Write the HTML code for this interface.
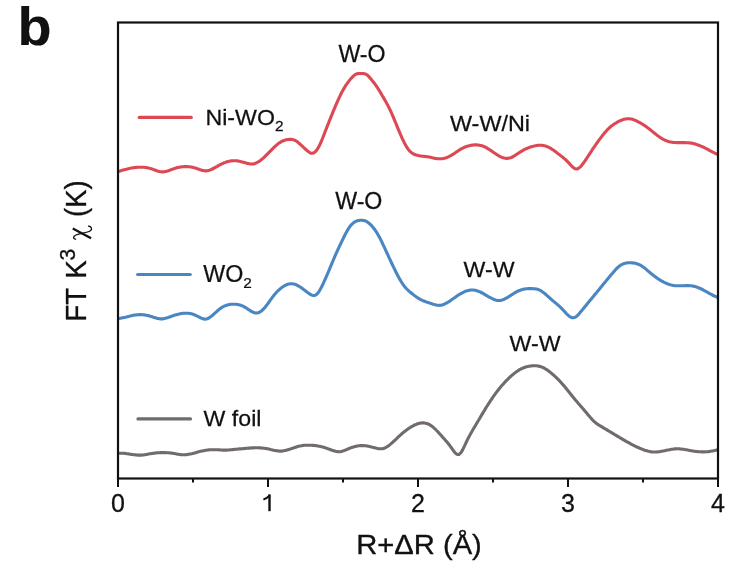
<!DOCTYPE html>
<html><head><meta charset="utf-8"><style>
html,body{margin:0;padding:0;background:#fff;}
body{width:755px;height:580px;overflow:hidden;}
svg{display:block;will-change:transform;}
text{font-family:"Liberation Sans",sans-serif;fill:#111;}
</style></head><body>
<svg width="755" height="580" viewBox="0 0 755 580">
<rect width="755" height="580" fill="#fff"/>
<text transform="translate(17.5,44.5) scale(1.05,1)" font-size="53" font-weight="bold" fill="#000" stroke="#000" stroke-width="0.2">b</text>
<g fill="none" stroke-linejoin="round" stroke-linecap="round" stroke-width="3.1">
<path d="M119.3,171.2 L120.3,170.9 L121.3,170.6 L122.3,170.3 L123.3,170.0 L124.3,169.7 L125.3,169.4 L126.3,169.2 L127.3,168.9 L128.3,168.7 L129.3,168.5 L130.3,168.3 L131.3,168.1 L132.3,167.9 L133.3,167.8 L134.3,167.6 L135.3,167.5 L136.3,167.4 L137.3,167.3 L138.3,167.3 L139.3,167.2 L140.3,167.2 L141.3,167.2 L142.3,167.2 L143.3,167.3 L144.3,167.3 L145.3,167.5 L146.3,167.6 L147.3,167.8 L148.3,168.0 L149.3,168.2 L150.3,168.5 L151.3,168.8 L152.3,169.1 L153.3,169.5 L154.3,169.8 L155.3,170.2 L156.3,170.6 L157.3,170.9 L158.3,171.2 L159.3,171.5 L160.3,171.7 L161.3,171.8 L162.3,171.9 L163.3,171.9 L164.3,171.8 L165.3,171.6 L166.3,171.4 L167.3,171.1 L168.3,170.8 L169.3,170.4 L170.3,170.0 L171.3,169.6 L172.3,169.2 L173.3,168.9 L174.3,168.5 L175.3,168.2 L176.3,167.9 L177.3,167.6 L178.3,167.4 L179.3,167.2 L180.3,167.0 L181.3,166.9 L182.3,166.7 L183.3,166.7 L184.3,166.6 L185.3,166.6 L186.3,166.6 L187.3,166.6 L188.3,166.7 L189.3,166.8 L190.3,166.9 L191.3,167.1 L192.3,167.3 L193.3,167.5 L194.3,167.8 L195.3,168.0 L196.3,168.3 L197.3,168.7 L198.3,169.0 L199.3,169.4 L200.3,169.7 L201.3,170.1 L202.3,170.4 L203.3,170.6 L204.3,170.8 L205.3,170.9 L206.3,170.9 L207.3,170.8 L208.3,170.6 L209.3,170.3 L210.3,169.9 L211.3,169.5 L212.3,169.0 L213.3,168.5 L214.3,168.0 L215.3,167.4 L216.3,166.8 L217.3,166.3 L218.3,165.7 L219.3,165.1 L220.3,164.6 L221.3,164.1 L222.3,163.6 L223.3,163.2 L224.3,162.7 L225.3,162.4 L226.3,162.0 L227.3,161.7 L228.3,161.4 L229.3,161.2 L230.3,161.0 L231.3,160.9 L232.3,160.8 L233.3,160.7 L234.3,160.7 L235.3,160.7 L236.3,160.8 L237.3,160.9 L238.3,161.0 L239.3,161.2 L240.3,161.4 L241.3,161.7 L242.3,161.9 L243.3,162.2 L244.3,162.5 L245.3,162.8 L246.3,163.1 L247.3,163.4 L248.3,163.6 L249.3,163.8 L250.3,164.0 L251.3,164.0 L252.3,164.0 L253.3,163.9 L254.3,163.7 L255.3,163.3 L256.3,162.9 L257.3,162.4 L258.3,161.9 L259.3,161.2 L260.3,160.5 L261.3,159.7 L262.3,158.9 L263.3,158.1 L264.3,157.1 L265.3,156.2 L266.3,155.2 L267.3,154.2 L268.3,153.2 L269.3,152.2 L270.3,151.2 L271.3,150.1 L272.3,149.1 L273.3,148.1 L274.3,147.1 L275.3,146.2 L276.3,145.3 L277.3,144.4 L278.3,143.6 L279.3,142.9 L280.3,142.3 L281.3,141.7 L282.3,141.2 L283.3,140.8 L284.3,140.4 L285.3,140.1 L286.3,139.8 L287.3,139.6 L288.3,139.5 L289.3,139.4 L290.3,139.3 L291.3,139.4 L292.3,139.5 L293.3,139.7 L294.3,140.1 L295.3,140.5 L296.3,141.1 L297.3,141.8 L298.3,142.6 L299.3,143.5 L300.3,144.4 L301.3,145.3 L302.3,146.2 L303.3,147.2 L304.3,148.1 L305.3,149.0 L306.3,149.9 L307.3,150.8 L308.3,151.6 L309.3,152.3 L310.3,152.9 L311.3,153.2 L312.3,153.3 L313.3,153.1 L314.3,152.5 L315.3,151.7 L316.3,150.6 L317.3,149.2 L318.3,147.6 L319.3,145.7 L320.3,143.7 L321.3,141.4 L322.3,139.0 L323.3,136.5 L324.3,133.9 L325.3,131.3 L326.3,128.7 L327.3,126.1 L328.3,123.6 L329.3,121.0 L330.3,118.6 L331.3,116.1 L332.3,113.6 L333.3,111.2 L334.3,108.8 L335.3,106.4 L336.3,104.1 L337.3,101.8 L338.3,99.6 L339.3,97.4 L340.3,95.3 L341.3,93.3 L342.3,91.4 L343.3,89.6 L344.3,87.9 L345.3,86.2 L346.3,84.7 L347.3,83.3 L348.3,81.9 L349.3,80.6 L350.3,79.3 L351.3,78.2 L352.3,77.1 L353.3,76.1 L354.3,75.3 L355.3,74.6 L356.3,74.1 L357.3,73.8 L358.3,73.6 L359.3,73.5 L360.3,73.5 L361.3,73.5 L362.3,73.5 L363.3,73.5 L364.3,73.7 L365.3,73.9 L366.3,74.4 L367.3,75.1 L368.3,76.0 L369.3,77.1 L370.3,78.2 L371.3,79.4 L372.3,80.7 L373.3,81.9 L374.3,83.2 L375.3,84.6 L376.3,86.0 L377.3,87.4 L378.3,89.0 L379.3,90.6 L380.3,92.2 L381.3,93.9 L382.3,95.7 L383.3,97.4 L384.3,99.1 L385.3,100.8 L386.3,102.6 L387.3,104.4 L388.3,106.3 L389.3,108.3 L390.3,110.4 L391.3,112.5 L392.3,114.8 L393.3,117.2 L394.3,119.6 L395.3,122.0 L396.3,124.4 L397.3,126.9 L398.3,129.3 L399.3,131.7 L400.3,134.0 L401.3,136.3 L402.3,138.6 L403.3,140.7 L404.3,142.7 L405.3,144.6 L406.3,146.4 L407.3,148.0 L408.3,149.4 L409.3,150.6 L410.3,151.6 L411.3,152.5 L412.3,153.2 L413.3,153.8 L414.3,154.3 L415.3,154.7 L416.3,155.0 L417.3,155.3 L418.3,155.6 L419.3,155.8 L420.3,155.9 L421.3,156.1 L422.3,156.2 L423.3,156.3 L424.3,156.4 L425.3,156.5 L426.3,156.6 L427.3,156.8 L428.3,156.9 L429.3,157.1 L430.3,157.3 L431.3,157.5 L432.3,157.8 L433.3,158.0 L434.3,158.2 L435.3,158.4 L436.3,158.5 L437.3,158.7 L438.3,158.8 L439.3,158.8 L440.3,158.8 L441.3,158.8 L442.3,158.7 L443.3,158.5 L444.3,158.3 L445.3,158.0 L446.3,157.7 L447.3,157.3 L448.3,156.9 L449.3,156.4 L450.3,155.9 L451.3,155.3 L452.3,154.7 L453.3,154.1 L454.3,153.4 L455.3,152.7 L456.3,152.0 L457.3,151.4 L458.3,150.7 L459.3,150.0 L460.3,149.4 L461.3,148.8 L462.3,148.3 L463.3,147.8 L464.3,147.3 L465.3,146.9 L466.3,146.6 L467.3,146.2 L468.3,145.9 L469.3,145.7 L470.3,145.5 L471.3,145.3 L472.3,145.1 L473.3,145.0 L474.3,144.9 L475.3,144.9 L476.3,144.9 L477.3,145.0 L478.3,145.0 L479.3,145.2 L480.3,145.4 L481.3,145.6 L482.3,145.9 L483.3,146.3 L484.3,146.7 L485.3,147.2 L486.3,147.7 L487.3,148.3 L488.3,148.9 L489.3,149.5 L490.3,150.2 L491.3,150.8 L492.3,151.5 L493.3,152.2 L494.3,152.9 L495.3,153.6 L496.3,154.2 L497.3,154.9 L498.3,155.5 L499.3,156.1 L500.3,156.6 L501.3,157.1 L502.3,157.5 L503.3,157.8 L504.3,158.1 L505.3,158.3 L506.3,158.4 L507.3,158.4 L508.3,158.3 L509.3,158.1 L510.3,157.9 L511.3,157.5 L512.3,157.0 L513.3,156.5 L514.3,155.9 L515.3,155.3 L516.3,154.6 L517.3,153.9 L518.3,153.3 L519.3,152.6 L520.3,152.0 L521.3,151.4 L522.3,150.8 L523.3,150.2 L524.3,149.7 L525.3,149.2 L526.3,148.7 L527.3,148.3 L528.3,147.8 L529.3,147.4 L530.3,147.1 L531.3,146.7 L532.3,146.4 L533.3,146.2 L534.3,145.9 L535.3,145.7 L536.3,145.6 L537.3,145.4 L538.3,145.3 L539.3,145.3 L540.3,145.3 L541.3,145.3 L542.3,145.4 L543.3,145.6 L544.3,145.8 L545.3,146.0 L546.3,146.3 L547.3,146.7 L548.3,147.1 L549.3,147.6 L550.3,148.1 L551.3,148.8 L552.3,149.4 L553.3,150.1 L554.3,150.8 L555.3,151.6 L556.3,152.3 L557.3,153.1 L558.3,153.9 L559.3,154.6 L560.3,155.4 L561.3,156.1 L562.3,156.9 L563.3,157.7 L564.3,158.6 L565.3,159.4 L566.3,160.4 L567.3,161.4 L568.3,162.4 L569.3,163.5 L570.3,164.6 L571.3,165.7 L572.3,166.8 L573.3,167.6 L574.3,168.3 L575.3,168.8 L576.3,169.0 L577.3,168.9 L578.3,168.4 L579.3,167.7 L580.3,166.8 L581.3,165.8 L582.3,164.5 L583.3,163.2 L584.3,161.9 L585.3,160.4 L586.3,159.0 L587.3,157.4 L588.3,155.9 L589.3,154.4 L590.3,152.8 L591.3,151.3 L592.3,149.7 L593.3,148.2 L594.3,146.8 L595.3,145.3 L596.3,143.9 L597.3,142.5 L598.3,141.1 L599.3,139.7 L600.3,138.4 L601.3,137.1 L602.3,135.8 L603.3,134.5 L604.3,133.3 L605.3,132.1 L606.3,131.0 L607.3,129.9 L608.3,128.9 L609.3,127.9 L610.3,127.0 L611.3,126.1 L612.3,125.4 L613.3,124.6 L614.3,124.0 L615.3,123.3 L616.3,122.8 L617.3,122.2 L618.3,121.7 L619.3,121.2 L620.3,120.7 L621.3,120.3 L622.3,119.9 L623.3,119.6 L624.3,119.3 L625.3,119.1 L626.3,118.9 L627.3,118.8 L628.3,118.8 L629.3,118.8 L630.3,118.9 L631.3,119.1 L632.3,119.3 L633.3,119.6 L634.3,120.0 L635.3,120.4 L636.3,120.8 L637.3,121.3 L638.3,121.8 L639.3,122.3 L640.3,122.9 L641.3,123.5 L642.3,124.1 L643.3,124.7 L644.3,125.4 L645.3,126.0 L646.3,126.8 L647.3,127.5 L648.3,128.2 L649.3,129.0 L650.3,129.8 L651.3,130.6 L652.3,131.4 L653.3,132.2 L654.3,133.0 L655.3,133.8 L656.3,134.6 L657.3,135.4 L658.3,136.1 L659.3,136.9 L660.3,137.5 L661.3,138.2 L662.3,138.8 L663.3,139.3 L664.3,139.8 L665.3,140.3 L666.3,140.7 L667.3,141.1 L668.3,141.4 L669.3,141.7 L670.3,141.9 L671.3,142.1 L672.3,142.2 L673.3,142.4 L674.3,142.5 L675.3,142.5 L676.3,142.6 L677.3,142.6 L678.3,142.6 L679.3,142.6 L680.3,142.6 L681.3,142.6 L682.3,142.6 L683.3,142.6 L684.3,142.6 L685.3,142.6 L686.3,142.7 L687.3,142.7 L688.3,142.8 L689.3,142.9 L690.3,143.0 L691.3,143.1 L692.3,143.3 L693.3,143.5 L694.3,143.8 L695.3,144.1 L696.3,144.4 L697.3,144.7 L698.3,145.1 L699.3,145.4 L700.3,145.9 L701.3,146.3 L702.3,146.7 L703.3,147.2 L704.3,147.7 L705.3,148.2 L706.3,148.7 L707.3,149.2 L708.3,149.7 L709.3,150.3 L710.3,150.8 L711.3,151.3 L712.3,151.9 L713.3,152.4 L714.3,152.9 L715.3,153.4 L716.3,153.9 L717.3,154.4 L717.5,154.5" stroke="#dc4853"/>
<path d="M119.3,318.5 L120.3,318.3 L121.3,318.1 L122.3,317.9 L123.3,317.6 L124.3,317.4 L125.3,317.2 L126.3,316.9 L127.3,316.7 L128.3,316.4 L129.3,316.2 L130.3,315.9 L131.3,315.7 L132.3,315.5 L133.3,315.3 L134.3,315.1 L135.3,315.0 L136.3,314.9 L137.3,314.7 L138.3,314.7 L139.3,314.6 L140.3,314.6 L141.3,314.6 L142.3,314.7 L143.3,314.7 L144.3,314.9 L145.3,315.0 L146.3,315.2 L147.3,315.4 L148.3,315.6 L149.3,315.9 L150.3,316.2 L151.3,316.5 L152.3,316.8 L153.3,317.2 L154.3,317.5 L155.3,317.8 L156.3,318.1 L157.3,318.4 L158.3,318.6 L159.3,318.8 L160.3,318.9 L161.3,318.9 L162.3,318.9 L163.3,318.7 L164.3,318.5 L165.3,318.3 L166.3,318.0 L167.3,317.7 L168.3,317.4 L169.3,317.0 L170.3,316.7 L171.3,316.3 L172.3,316.0 L173.3,315.6 L174.3,315.3 L175.3,315.0 L176.3,314.7 L177.3,314.4 L178.3,314.2 L179.3,314.0 L180.3,313.8 L181.3,313.6 L182.3,313.4 L183.3,313.3 L184.3,313.2 L185.3,313.2 L186.3,313.2 L187.3,313.2 L188.3,313.3 L189.3,313.4 L190.3,313.6 L191.3,313.8 L192.3,314.0 L193.3,314.4 L194.3,314.8 L195.3,315.2 L196.3,315.6 L197.3,316.1 L198.3,316.6 L199.3,317.1 L200.3,317.7 L201.3,318.1 L202.3,318.5 L203.3,318.9 L204.3,319.1 L205.3,319.1 L206.3,319.0 L207.3,318.7 L208.3,318.3 L209.3,317.7 L210.3,317.0 L211.3,316.3 L212.3,315.5 L213.3,314.6 L214.3,313.7 L215.3,312.8 L216.3,311.9 L217.3,311.0 L218.3,310.1 L219.3,309.3 L220.3,308.5 L221.3,307.8 L222.3,307.2 L223.3,306.7 L224.3,306.2 L225.3,305.7 L226.3,305.4 L227.3,305.0 L228.3,304.8 L229.3,304.6 L230.3,304.4 L231.3,304.3 L232.3,304.2 L233.3,304.2 L234.3,304.2 L235.3,304.2 L236.3,304.3 L237.3,304.5 L238.3,304.6 L239.3,304.9 L240.3,305.1 L241.3,305.5 L242.3,305.9 L243.3,306.3 L244.3,306.8 L245.3,307.4 L246.3,308.0 L247.3,308.7 L248.3,309.4 L249.3,310.0 L250.3,310.7 L251.3,311.3 L252.3,311.9 L253.3,312.3 L254.3,312.7 L255.3,312.9 L256.3,313.0 L257.3,312.9 L258.3,312.7 L259.3,312.3 L260.3,311.7 L261.3,311.0 L262.3,310.2 L263.3,309.2 L264.3,308.2 L265.3,307.0 L266.3,305.7 L267.3,304.4 L268.3,303.0 L269.3,301.6 L270.3,300.2 L271.3,298.8 L272.3,297.4 L273.3,296.1 L274.3,294.8 L275.3,293.7 L276.3,292.5 L277.3,291.5 L278.3,290.5 L279.3,289.6 L280.3,288.7 L281.3,287.9 L282.3,287.1 L283.3,286.5 L284.3,285.9 L285.3,285.3 L286.3,284.8 L287.3,284.4 L288.3,284.1 L289.3,283.9 L290.3,283.7 L291.3,283.7 L292.3,283.7 L293.3,283.9 L294.3,284.1 L295.3,284.4 L296.3,284.8 L297.3,285.3 L298.3,285.9 L299.3,286.5 L300.3,287.1 L301.3,287.8 L302.3,288.6 L303.3,289.3 L304.3,290.1 L305.3,290.8 L306.3,291.6 L307.3,292.3 L308.3,293.0 L309.3,293.7 L310.3,294.3 L311.3,294.9 L312.3,295.3 L313.3,295.5 L314.3,295.5 L315.3,295.2 L316.3,294.6 L317.3,293.7 L318.3,292.5 L319.3,291.0 L320.3,289.3 L321.3,287.5 L322.3,285.5 L323.3,283.4 L324.3,281.2 L325.3,279.0 L326.3,276.7 L327.3,274.4 L328.3,272.0 L329.3,269.6 L330.3,267.2 L331.3,264.8 L332.3,262.4 L333.3,260.0 L334.3,257.7 L335.3,255.4 L336.3,253.1 L337.3,250.9 L338.3,248.7 L339.3,246.6 L340.3,244.5 L341.3,242.4 L342.3,240.3 L343.3,238.3 L344.3,236.3 L345.3,234.3 L346.3,232.4 L347.3,230.6 L348.3,228.9 L349.3,227.4 L350.3,226.0 L351.3,224.8 L352.3,223.8 L353.3,222.9 L354.3,222.2 L355.3,221.6 L356.3,221.2 L357.3,220.8 L358.3,220.6 L359.3,220.4 L360.3,220.3 L361.3,220.2 L362.3,220.2 L363.3,220.4 L364.3,220.6 L365.3,220.9 L366.3,221.4 L367.3,222.0 L368.3,222.7 L369.3,223.5 L370.3,224.4 L371.3,225.4 L372.3,226.5 L373.3,227.7 L374.3,229.0 L375.3,230.4 L376.3,231.9 L377.3,233.5 L378.3,235.2 L379.3,237.0 L380.3,238.9 L381.3,240.9 L382.3,243.0 L383.3,245.1 L384.3,247.2 L385.3,249.4 L386.3,251.6 L387.3,253.7 L388.3,255.9 L389.3,258.1 L390.3,260.2 L391.3,262.4 L392.3,264.5 L393.3,266.6 L394.3,268.7 L395.3,270.7 L396.3,272.7 L397.3,274.7 L398.3,276.6 L399.3,278.4 L400.3,280.1 L401.3,281.8 L402.3,283.4 L403.3,284.8 L404.3,286.2 L405.3,287.4 L406.3,288.5 L407.3,289.5 L408.3,290.5 L409.3,291.4 L410.3,292.2 L411.3,293.0 L412.3,293.8 L413.3,294.6 L414.3,295.4 L415.3,296.1 L416.3,296.9 L417.3,297.6 L418.3,298.2 L419.3,298.8 L420.3,299.4 L421.3,299.9 L422.3,300.4 L423.3,300.8 L424.3,301.2 L425.3,301.6 L426.3,301.9 L427.3,302.3 L428.3,302.6 L429.3,302.9 L430.3,303.3 L431.3,303.6 L432.3,303.9 L433.3,304.3 L434.3,304.6 L435.3,304.8 L436.3,305.1 L437.3,305.2 L438.3,305.3 L439.3,305.4 L440.3,305.3 L441.3,305.2 L442.3,304.9 L443.3,304.6 L444.3,304.2 L445.3,303.7 L446.3,303.2 L447.3,302.6 L448.3,302.0 L449.3,301.4 L450.3,300.7 L451.3,300.0 L452.3,299.3 L453.3,298.6 L454.3,297.9 L455.3,297.2 L456.3,296.5 L457.3,295.8 L458.3,295.1 L459.3,294.5 L460.3,293.9 L461.3,293.3 L462.3,292.8 L463.3,292.3 L464.3,291.8 L465.3,291.4 L466.3,291.0 L467.3,290.7 L468.3,290.4 L469.3,290.2 L470.3,290.1 L471.3,290.0 L472.3,290.0 L473.3,290.0 L474.3,290.2 L475.3,290.3 L476.3,290.6 L477.3,290.9 L478.3,291.2 L479.3,291.6 L480.3,292.0 L481.3,292.5 L482.3,293.0 L483.3,293.6 L484.3,294.2 L485.3,294.8 L486.3,295.4 L487.3,296.0 L488.3,296.6 L489.3,297.1 L490.3,297.7 L491.3,298.2 L492.3,298.7 L493.3,299.2 L494.3,299.6 L495.3,299.9 L496.3,300.2 L497.3,300.4 L498.3,300.5 L499.3,300.5 L500.3,300.4 L501.3,300.2 L502.3,299.9 L503.3,299.6 L504.3,299.2 L505.3,298.7 L506.3,298.2 L507.3,297.6 L508.3,297.0 L509.3,296.3 L510.3,295.7 L511.3,295.0 L512.3,294.4 L513.3,293.8 L514.3,293.1 L515.3,292.5 L516.3,292.0 L517.3,291.4 L518.3,291.0 L519.3,290.5 L520.3,290.2 L521.3,289.8 L522.3,289.6 L523.3,289.3 L524.3,289.1 L525.3,288.9 L526.3,288.8 L527.3,288.7 L528.3,288.6 L529.3,288.6 L530.3,288.6 L531.3,288.6 L532.3,288.6 L533.3,288.7 L534.3,288.7 L535.3,288.9 L536.3,289.0 L537.3,289.3 L538.3,289.6 L539.3,290.0 L540.3,290.4 L541.3,291.0 L542.3,291.7 L543.3,292.4 L544.3,293.2 L545.3,294.0 L546.3,294.9 L547.3,295.8 L548.3,296.7 L549.3,297.6 L550.3,298.5 L551.3,299.4 L552.3,300.3 L553.3,301.1 L554.3,301.9 L555.3,302.7 L556.3,303.6 L557.3,304.4 L558.3,305.3 L559.3,306.2 L560.3,307.1 L561.3,308.1 L562.3,309.1 L563.3,310.2 L564.3,311.3 L565.3,312.4 L566.3,313.5 L567.3,314.5 L568.3,315.4 L569.3,316.2 L570.3,316.9 L571.3,317.4 L572.3,317.7 L573.3,317.8 L574.3,317.6 L575.3,317.1 L576.3,316.5 L577.3,315.6 L578.3,314.6 L579.3,313.5 L580.3,312.3 L581.3,311.1 L582.3,309.9 L583.3,308.6 L584.3,307.4 L585.3,306.2 L586.3,305.0 L587.3,303.8 L588.3,302.6 L589.3,301.3 L590.3,300.1 L591.3,298.9 L592.3,297.7 L593.3,296.5 L594.3,295.3 L595.3,294.1 L596.3,292.9 L597.3,291.6 L598.3,290.4 L599.3,289.2 L600.3,288.0 L601.3,286.8 L602.3,285.5 L603.3,284.3 L604.3,283.1 L605.3,281.9 L606.3,280.6 L607.3,279.4 L608.3,278.2 L609.3,277.0 L610.3,275.8 L611.3,274.6 L612.3,273.4 L613.3,272.2 L614.3,271.1 L615.3,270.0 L616.3,268.9 L617.3,267.9 L618.3,267.0 L619.3,266.2 L620.3,265.4 L621.3,264.8 L622.3,264.3 L623.3,263.8 L624.3,263.5 L625.3,263.2 L626.3,263.0 L627.3,262.9 L628.3,262.8 L629.3,262.8 L630.3,262.8 L631.3,262.8 L632.3,262.9 L633.3,263.0 L634.3,263.1 L635.3,263.3 L636.3,263.6 L637.3,263.9 L638.3,264.2 L639.3,264.6 L640.3,265.1 L641.3,265.7 L642.3,266.4 L643.3,267.1 L644.3,267.8 L645.3,268.6 L646.3,269.4 L647.3,270.3 L648.3,271.2 L649.3,272.0 L650.3,272.9 L651.3,273.7 L652.3,274.5 L653.3,275.3 L654.3,276.1 L655.3,276.8 L656.3,277.6 L657.3,278.2 L658.3,278.9 L659.3,279.6 L660.3,280.2 L661.3,280.8 L662.3,281.3 L663.3,281.9 L664.3,282.4 L665.3,282.9 L666.3,283.3 L667.3,283.7 L668.3,284.1 L669.3,284.5 L670.3,284.8 L671.3,285.0 L672.3,285.2 L673.3,285.4 L674.3,285.6 L675.3,285.7 L676.3,285.7 L677.3,285.8 L678.3,285.8 L679.3,285.8 L680.3,285.8 L681.3,285.7 L682.3,285.7 L683.3,285.7 L684.3,285.7 L685.3,285.6 L686.3,285.6 L687.3,285.6 L688.3,285.6 L689.3,285.7 L690.3,285.7 L691.3,285.8 L692.3,286.0 L693.3,286.1 L694.3,286.4 L695.3,286.6 L696.3,286.9 L697.3,287.3 L698.3,287.7 L699.3,288.1 L700.3,288.5 L701.3,289.0 L702.3,289.5 L703.3,290.0 L704.3,290.6 L705.3,291.1 L706.3,291.7 L707.3,292.2 L708.3,292.8 L709.3,293.4 L710.3,293.9 L711.3,294.4 L712.3,295.0 L713.3,295.5 L714.3,296.0 L715.3,296.4 L716.3,296.8 L717.3,297.2 L717.5,297.3" stroke="#4a86c2"/>
<path d="M119.6,453.3 L120.6,453.3 L121.6,453.3 L122.6,453.3 L123.6,453.3 L124.6,453.4 L125.6,453.5 L126.6,453.7 L127.6,453.8 L128.6,453.9 L129.6,454.1 L130.6,454.2 L131.6,454.4 L132.6,454.5 L133.6,454.7 L134.6,454.8 L135.6,454.9 L136.6,455.0 L137.6,455.1 L138.6,455.1 L139.6,455.1 L140.6,455.1 L141.6,455.1 L142.6,455.0 L143.6,454.9 L144.6,454.7 L145.6,454.6 L146.6,454.4 L147.6,454.2 L148.6,454.0 L149.6,453.8 L150.6,453.7 L151.6,453.5 L152.6,453.4 L153.6,453.2 L154.6,453.1 L155.6,453.0 L156.6,452.9 L157.6,452.8 L158.6,452.7 L159.6,452.7 L160.6,452.6 L161.6,452.6 L162.6,452.6 L163.6,452.6 L164.6,452.6 L165.6,452.6 L166.6,452.7 L167.6,452.7 L168.6,452.8 L169.6,452.9 L170.6,453.0 L171.6,453.1 L172.6,453.3 L173.6,453.4 L174.6,453.6 L175.6,453.8 L176.6,454.0 L177.6,454.2 L178.6,454.3 L179.6,454.5 L180.6,454.6 L181.6,454.7 L182.6,454.8 L183.6,454.8 L184.6,454.8 L185.6,454.7 L186.6,454.6 L187.6,454.5 L188.6,454.3 L189.6,454.1 L190.6,453.9 L191.6,453.7 L192.6,453.5 L193.6,453.2 L194.6,452.9 L195.6,452.7 L196.6,452.4 L197.6,452.1 L198.6,451.8 L199.6,451.6 L200.6,451.3 L201.6,451.1 L202.6,450.9 L203.6,450.7 L204.6,450.5 L205.6,450.3 L206.6,450.2 L207.6,450.0 L208.6,449.9 L209.6,449.8 L210.6,449.8 L211.6,449.7 L212.6,449.7 L213.6,449.7 L214.6,449.7 L215.6,449.7 L216.6,449.7 L217.6,449.8 L218.6,449.8 L219.6,449.9 L220.6,450.0 L221.6,450.0 L222.6,450.1 L223.6,450.1 L224.6,450.1 L225.6,450.1 L226.6,450.1 L227.6,450.0 L228.6,450.0 L229.6,449.9 L230.6,449.8 L231.6,449.7 L232.6,449.6 L233.6,449.5 L234.6,449.4 L235.6,449.3 L236.6,449.2 L237.6,449.1 L238.6,449.0 L239.6,448.9 L240.6,448.9 L241.6,448.8 L242.6,448.7 L243.6,448.6 L244.6,448.5 L245.6,448.4 L246.6,448.3 L247.6,448.2 L248.6,448.1 L249.6,448.1 L250.6,448.0 L251.6,447.9 L252.6,447.9 L253.6,447.9 L254.6,447.8 L255.6,447.8 L256.6,447.8 L257.6,447.8 L258.6,447.8 L259.6,447.9 L260.6,447.9 L261.6,448.0 L262.6,448.1 L263.6,448.2 L264.6,448.3 L265.6,448.5 L266.6,448.6 L267.6,448.8 L268.6,449.0 L269.6,449.2 L270.6,449.5 L271.6,449.7 L272.6,449.9 L273.6,450.2 L274.6,450.4 L275.6,450.6 L276.6,450.8 L277.6,450.9 L278.6,451.0 L279.6,451.1 L280.6,451.1 L281.6,451.1 L282.6,451.0 L283.6,450.8 L284.6,450.6 L285.6,450.4 L286.6,450.1 L287.6,449.9 L288.6,449.5 L289.6,449.2 L290.6,448.9 L291.6,448.5 L292.6,448.2 L293.6,447.9 L294.6,447.5 L295.6,447.2 L296.6,446.9 L297.6,446.6 L298.6,446.3 L299.6,446.1 L300.6,445.9 L301.6,445.7 L302.6,445.5 L303.6,445.4 L304.6,445.3 L305.6,445.3 L306.6,445.2 L307.6,445.2 L308.6,445.2 L309.6,445.2 L310.6,445.2 L311.6,445.3 L312.6,445.4 L313.6,445.4 L314.6,445.5 L315.6,445.6 L316.6,445.7 L317.6,445.9 L318.6,446.1 L319.6,446.2 L320.6,446.5 L321.6,446.7 L322.6,447.0 L323.6,447.3 L324.6,447.6 L325.6,447.9 L326.6,448.3 L327.6,448.6 L328.6,449.0 L329.6,449.3 L330.6,449.7 L331.6,450.1 L332.6,450.4 L333.6,450.7 L334.6,451.0 L335.6,451.3 L336.6,451.5 L337.6,451.6 L338.6,451.7 L339.6,451.7 L340.6,451.6 L341.6,451.4 L342.6,451.1 L343.6,450.8 L344.6,450.4 L345.6,450.0 L346.6,449.6 L347.6,449.1 L348.6,448.7 L349.6,448.3 L350.6,447.9 L351.6,447.5 L352.6,447.2 L353.6,446.9 L354.6,446.6 L355.6,446.4 L356.6,446.1 L357.6,446.0 L358.6,445.8 L359.6,445.7 L360.6,445.6 L361.6,445.6 L362.6,445.6 L363.6,445.6 L364.6,445.7 L365.6,445.8 L366.6,445.9 L367.6,446.1 L368.6,446.2 L369.6,446.4 L370.6,446.7 L371.6,446.9 L372.6,447.2 L373.6,447.4 L374.6,447.7 L375.6,448.0 L376.6,448.3 L377.6,448.5 L378.6,448.7 L379.6,448.8 L380.6,448.8 L381.6,448.8 L382.6,448.7 L383.6,448.4 L384.6,448.1 L385.6,447.6 L386.6,447.0 L387.6,446.4 L388.6,445.7 L389.6,444.9 L390.6,444.1 L391.6,443.2 L392.6,442.4 L393.6,441.4 L394.6,440.5 L395.6,439.6 L396.6,438.6 L397.6,437.7 L398.6,436.7 L399.6,435.8 L400.6,434.9 L401.6,434.0 L402.6,433.1 L403.6,432.3 L404.6,431.5 L405.6,430.7 L406.6,430.0 L407.6,429.2 L408.6,428.5 L409.6,427.9 L410.6,427.2 L411.6,426.6 L412.6,426.1 L413.6,425.5 L414.6,425.0 L415.6,424.6 L416.6,424.2 L417.6,423.8 L418.6,423.5 L419.6,423.3 L420.6,423.1 L421.6,423.0 L422.6,422.9 L423.6,422.9 L424.6,423.0 L425.6,423.2 L426.6,423.5 L427.6,423.8 L428.6,424.2 L429.6,424.7 L430.6,425.3 L431.6,426.0 L432.6,426.8 L433.6,427.6 L434.6,428.5 L435.6,429.5 L436.6,430.5 L437.6,431.5 L438.6,432.6 L439.6,433.7 L440.6,434.8 L441.6,435.9 L442.6,437.1 L443.6,438.2 L444.6,439.3 L445.6,440.5 L446.6,441.6 L447.6,442.8 L448.6,444.0 L449.6,445.3 L450.6,446.7 L451.6,448.0 L452.6,449.5 L453.6,450.9 L454.6,452.2 L455.6,453.3 L456.6,454.1 L457.6,454.5 L458.6,454.5 L459.6,454.0 L460.6,453.0 L461.6,451.6 L462.6,449.9 L463.6,447.9 L464.6,445.8 L465.6,443.7 L466.6,441.5 L467.6,439.4 L468.6,437.5 L469.6,435.6 L470.6,433.7 L471.6,432.0 L472.6,430.2 L473.6,428.5 L474.6,426.9 L475.6,425.2 L476.6,423.5 L477.6,421.8 L478.6,420.2 L479.6,418.5 L480.6,416.8 L481.6,415.1 L482.6,413.4 L483.6,411.7 L484.6,410.1 L485.6,408.4 L486.6,406.8 L487.6,405.2 L488.6,403.6 L489.6,402.1 L490.6,400.6 L491.6,399.1 L492.6,397.6 L493.6,396.2 L494.6,394.8 L495.6,393.4 L496.6,392.1 L497.6,390.8 L498.6,389.5 L499.6,388.2 L500.6,387.0 L501.6,385.8 L502.6,384.7 L503.6,383.6 L504.6,382.5 L505.6,381.4 L506.6,380.4 L507.6,379.4 L508.6,378.4 L509.6,377.4 L510.6,376.5 L511.6,375.6 L512.6,374.8 L513.6,373.9 L514.6,373.1 L515.6,372.4 L516.6,371.6 L517.6,371.0 L518.6,370.3 L519.6,369.7 L520.6,369.2 L521.6,368.6 L522.6,368.2 L523.6,367.8 L524.6,367.4 L525.6,367.1 L526.6,366.8 L527.6,366.6 L528.6,366.3 L529.6,366.2 L530.6,366.0 L531.6,365.9 L532.6,365.8 L533.6,365.7 L534.6,365.7 L535.6,365.8 L536.6,365.8 L537.6,366.0 L538.6,366.1 L539.6,366.4 L540.6,366.6 L541.6,367.0 L542.6,367.4 L543.6,367.8 L544.6,368.4 L545.6,369.0 L546.6,369.6 L547.6,370.3 L548.6,371.0 L549.6,371.8 L550.6,372.6 L551.6,373.4 L552.6,374.3 L553.6,375.1 L554.6,376.0 L555.6,377.0 L556.6,377.9 L557.6,378.9 L558.6,379.9 L559.6,380.9 L560.6,382.0 L561.6,383.1 L562.6,384.2 L563.6,385.4 L564.6,386.5 L565.6,387.7 L566.6,389.0 L567.6,390.2 L568.6,391.5 L569.6,392.7 L570.6,394.0 L571.6,395.2 L572.6,396.5 L573.6,397.7 L574.6,398.9 L575.6,400.2 L576.6,401.3 L577.6,402.5 L578.6,403.7 L579.6,404.8 L580.6,406.0 L581.6,407.1 L582.6,408.3 L583.6,409.4 L584.6,410.6 L585.6,411.7 L586.6,412.9 L587.6,414.2 L588.6,415.4 L589.6,416.6 L590.6,417.8 L591.6,418.9 L592.6,420.0 L593.6,421.0 L594.6,421.9 L595.6,422.7 L596.6,423.5 L597.6,424.2 L598.6,424.9 L599.6,425.5 L600.6,426.1 L601.6,426.7 L602.6,427.3 L603.6,427.9 L604.6,428.5 L605.6,429.1 L606.6,429.7 L607.6,430.3 L608.6,430.9 L609.6,431.5 L610.6,432.1 L611.6,432.7 L612.6,433.3 L613.6,433.9 L614.6,434.5 L615.6,435.1 L616.6,435.7 L617.6,436.3 L618.6,436.9 L619.6,437.5 L620.6,438.1 L621.6,438.7 L622.6,439.3 L623.6,439.9 L624.6,440.5 L625.6,441.0 L626.6,441.6 L627.6,442.1 L628.6,442.7 L629.6,443.2 L630.6,443.8 L631.6,444.3 L632.6,444.8 L633.6,445.3 L634.6,445.8 L635.6,446.3 L636.6,446.8 L637.6,447.3 L638.6,447.7 L639.6,448.2 L640.6,448.6 L641.6,449.0 L642.6,449.4 L643.6,449.8 L644.6,450.2 L645.6,450.5 L646.6,450.8 L647.6,451.1 L648.6,451.3 L649.6,451.5 L650.6,451.7 L651.6,451.9 L652.6,452.0 L653.6,452.0 L654.6,452.0 L655.6,452.0 L656.6,452.0 L657.6,451.9 L658.6,451.8 L659.6,451.7 L660.6,451.5 L661.6,451.3 L662.6,451.1 L663.6,450.9 L664.6,450.7 L665.6,450.5 L666.6,450.3 L667.6,450.1 L668.6,449.9 L669.6,449.7 L670.6,449.5 L671.6,449.3 L672.6,449.2 L673.6,449.0 L674.6,448.9 L675.6,448.9 L676.6,448.8 L677.6,448.8 L678.6,448.8 L679.6,448.9 L680.6,449.0 L681.6,449.1 L682.6,449.2 L683.6,449.3 L684.6,449.5 L685.6,449.7 L686.6,449.8 L687.6,450.0 L688.6,450.2 L689.6,450.4 L690.6,450.6 L691.6,450.7 L692.6,450.9 L693.6,451.1 L694.6,451.2 L695.6,451.4 L696.6,451.5 L697.6,451.6 L698.6,451.7 L699.6,451.8 L700.6,451.8 L701.6,451.9 L702.6,451.9 L703.6,451.9 L704.6,451.9 L705.6,451.8 L706.6,451.8 L707.6,451.7 L708.6,451.6 L709.6,451.5 L710.6,451.3 L711.6,451.1 L712.6,450.9 L713.6,450.7 L714.6,450.5 L715.6,450.2 L716.6,449.9 L717.5,449.6" stroke="#716b6b"/>
<line x1="139.2" y1="117.4" x2="191.3" y2="117.4" stroke="#dc4853"/>
<line x1="137.6" y1="274.5" x2="190.3" y2="274.5" stroke="#4a86c2"/>
<line x1="137.9" y1="418.9" x2="190.5" y2="418.9" stroke="#716b6b"/>
</g>
<rect x="118" y="22.5" width="600" height="456.0" fill="none" stroke="#111" stroke-width="2.2"/>
<g stroke="#111" stroke-width="2"><line x1="118" y1="478.5" x2="118" y2="487"/><line x1="268" y1="478.5" x2="268" y2="487"/><line x1="418" y1="478.5" x2="418" y2="487"/><line x1="568" y1="478.5" x2="568" y2="487"/><line x1="718" y1="478.5" x2="718" y2="487"/><line x1="193" y1="478.5" x2="193" y2="482.5"/><line x1="343" y1="478.5" x2="343" y2="482.5"/><line x1="493" y1="478.5" x2="493" y2="482.5"/><line x1="643" y1="478.5" x2="643" y2="482.5"/></g>
<g font-size="25" stroke="#111" stroke-width="0.3"><text transform="translate(118,511.8) scale(1.0,1)" text-anchor="middle">0</text><text transform="translate(418,511.8) scale(1.0,1)" text-anchor="middle">2</text><text transform="translate(568,511.8) scale(1.0,1)" text-anchor="middle">3</text><text transform="translate(718,511.8) scale(1.0,1)" text-anchor="middle">4</text></g>
<path d="M269.5,494.3 V511.2" stroke="#111" stroke-width="2.4" fill="none"/><path d="M269.6,495.4 C268,497.2 265.5,499 263.4,499.6" stroke="#111" stroke-width="2.1" fill="none"/>
<text transform="translate(419,554) scale(1.08,1)" font-size="27" text-anchor="middle" stroke="#111" stroke-width="0.35">R+ΔR (Å)</text>
<g transform="translate(85.8,321.5) scale(1.07,1) rotate(-90)" stroke="#111" stroke-width="0.3"><text x="0" y="0" font-size="27.5">FT</text><text x="42.9" y="0" font-size="27.5">K</text><text x="60.9" y="-10.5" font-size="21">3</text><text x="104.5" y="0" font-size="27.5">(K)</text></g>
<path d="M72.8,228.6 L91.1,238.3" stroke="#111" stroke-width="2.3" fill="none"/>
<path d="M88.2,226 C91.5,226.5 93,229 90,231 C87,232.8 80,233.2 76,235 C73,236.3 72.5,238.5 76.1,239.4" stroke="#111" stroke-width="1.3" fill="none"/>
<g font-size="22.5" stroke="#111" stroke-width="0.25">
<text transform="translate(205.5,125.2) scale(1.03,1)">Ni-WO<tspan font-size="15" dy="5.8">2</tspan></text>
<text transform="translate(203.3,282) scale(0.99,1)" font-size="23.5">WO<tspan font-size="15.5" dy="5.8">2</tspan></text>
<text transform="translate(232.5,426) scale(1.03,1)" text-anchor="middle">W foil</text>
<text transform="translate(362,62) scale(1.03,1.04)" text-anchor="middle">W-O</text>
<text transform="translate(358.8,208.7) scale(1.03,1.04)" text-anchor="middle">W-O</text>
<text transform="translate(490,130.8) scale(1.04,1.0)" text-anchor="middle">W-W/Ni</text>
<text transform="translate(489,277) scale(1.03,1.0)" text-anchor="middle">W-W</text>
<text transform="translate(535,351) scale(1.03,1.0)" text-anchor="middle">W-W</text>
</g>
</svg>
</body></html>
